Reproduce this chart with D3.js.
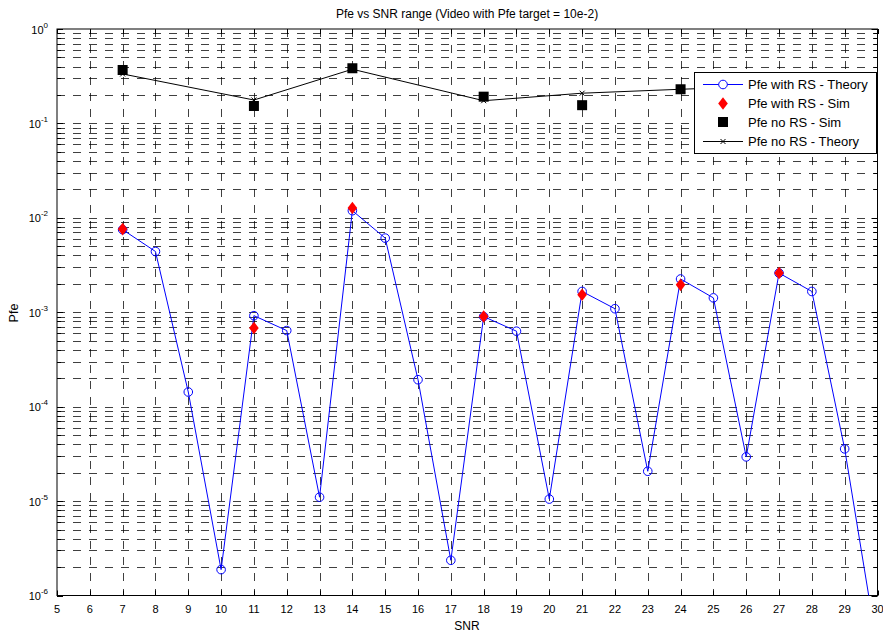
<!DOCTYPE html>
<html><head><meta charset="utf-8">
<script src="https://cdn.jsdelivr.net/npm/d3@7"></script>
<style>body{margin:0;background:#fff}svg{display:block;font-family:"Liberation Sans",Arial,sans-serif}</style>
</head><body><svg id="c" width="883" height="633"></svg>
<script>
const snr = [7,8,9,10,11,12,13,14,15,16,17,18,19,20,21,22,23,24,25,26,27,28,29,30];
const theoryRS = [7.5e-3,4.4e-3,1.43e-4,1.88e-6,9.2e-4,6.4e-4,1.1e-5,1.19e-2,6.1e-3,1.93e-4,2.36e-6,9.0e-4,6.3e-4,1.05e-5,1.66e-3,1.09e-3,2.07e-5,2.25e-3,1.42e-3,2.94e-5,2.6e-3,1.66e-3,3.57e-5,2.7e-7];
const simX = [7,11,14,18,21,24,27];
const simRS = [7.6e-3,6.8e-4,1.27e-2,9.0e-4,1.53e-3,1.95e-3,2.6e-3];
const noRSSim = [0.368,0.153,0.384,0.192,0.156,0.230,0.24];
const noRSTheory = [0.334,0.177,0.375,0.174,0.209,0.23,0.25];
const xTicks = d3.range(5,31);
const yDecades = [1e-6,1e-5,1e-4,1e-3,1e-2,1e-1,1e0];
const legendLabels = ["Pfe with RS - Theory","Pfe with RS - Sim","Pfe no RS - Sim","Pfe no RS - Theory"];

const svg = d3.select("#c");
const L=57, R=877.5, T=29, B=595.5;
const x = d3.scaleLinear().domain([5,30]).range([L,R]);
const y = d3.scaleLog().domain([1e-6,1]).range([B,T]);

const yMinor = [];
for (let e=-6;e<0;e++) for (let m=1;m<=9;m++) yMinor.push(m*Math.pow(10,e));
yMinor.push(1);

const defs = svg.append("defs");
defs.append("clipPath").attr("id","clip").append("rect").attr("x",L).attr("y",T).attr("width",R-L).attr("height",B-T);

// grid
const g = svg.append("g");
g.selectAll(".hg").data(yMinor.filter(v=>v>1e-6&&v<1)).join("line")
  .attr("x1",L).attr("x2",R).attr("y1",d=>Math.round(y(d))+0.5).attr("y2",d=>Math.round(y(d))+0.5)
  .attr("stroke","#000").attr("stroke-opacity",0.75).attr("stroke-dasharray","8,8");
g.selectAll(".vg").data(xTicks.filter(v=>v>5&&v<30)).join("line")
  .attr("y1",T).attr("y2",B).attr("x1",d=>Math.round(x(d))+0.5).attr("x2",d=>Math.round(x(d))+0.5)
  .attr("stroke","#000").attr("stroke-opacity",0.75).attr("stroke-dasharray","8,8");

// ticks inside on all sides
const ax = svg.append("g").attr("stroke","#000");
const tl=5;
xTicks.forEach(v=>{
  const px=Math.round(x(v))+0.5;
  ax.append("line").attr("x1",px).attr("x2",px).attr("y1",B).attr("y2",B-tl);
  ax.append("line").attr("x1",px).attr("x2",px).attr("y1",T).attr("y2",T+tl);
});
yMinor.forEach(v=>{
  const py=Math.round(y(v))+0.5;
  const len = yDecades.includes(v)?6:4;
  ax.append("line").attr("x1",L).attr("x2",L+len).attr("y1",py).attr("y2",py);
  ax.append("line").attr("x1",R).attr("x2",R-len).attr("y1",py).attr("y2",py);
});
svg.append("rect").attr("x",L).attr("y",T).attr("width",R-L).attr("height",B-T)
  .attr("fill","none").attr("stroke","#000").attr("stroke-width",1);

// tick labels
svg.append("g").selectAll("text").data(xTicks).join("text")
  .attr("x",d=>x(d)).attr("y",612.5).attr("text-anchor","middle").attr("font-size",11).text(d=>d);
const yl = svg.append("g").selectAll("text").data(yDecades).join("text")
  .attr("x",48).attr("y",d=>y(d)+4.5).attr("text-anchor","end").attr("font-size",11);
yl.append("tspan").text("10");
yl.append("tspan").attr("dy",-6).attr("font-size",8).text(d=>Math.round(Math.log10(d)));

// titles
svg.append("text").attr("x",467).attr("y",18).attr("text-anchor","middle").attr("font-size",12)
  .text("Pfe vs SNR range (Video with Pfe target = 10e-2)");
svg.append("text").attr("x",467).attr("y",629.5).attr("text-anchor","middle").attr("font-size",12).text("SNR");
svg.append("text").attr("transform","translate(17.5,313) rotate(-90)").attr("text-anchor","middle").attr("font-size",12.5).text("Pfe");

// data
const plot = svg.append("g").attr("clip-path","url(#clip)");
const line = d3.line().x(d=>x(d[0])).y(d=>y(d[1]));
plot.append("path").datum(snr.map((s,i)=>[s,theoryRS[i]])).attr("d",line)
  .attr("fill","none").attr("stroke","#0000ff").attr("stroke-width",1);
plot.selectAll(".tc").data(snr.map((s,i)=>[s,theoryRS[i]])).join("circle")
  .attr("cx",d=>x(d[0])).attr("cy",d=>y(d[1])).attr("r",4.3).attr("fill","none").attr("stroke","#0000ff");
const diamond = (cx,cy)=>`M${cx},${cy-6.3}L${cx+4.8},${cy}L${cx},${cy+6.3}L${cx-4.8},${cy}Z`;
plot.selectAll(".sd").data(simX.map((s,i)=>[s,simRS[i]])).join("path")
  .attr("d",d=>diamond(x(d[0]),y(d[1]))).attr("fill","#ff0000");
plot.selectAll(".sq").data(simX.map((s,i)=>[s,noRSSim[i]])).join("rect")
  .attr("x",d=>x(d[0])-5).attr("y",d=>y(d[1])-5).attr("width",10).attr("height",10).attr("fill","#000");
plot.append("path").datum(simX.map((s,i)=>[s,noRSTheory[i]])).attr("d",line)
  .attr("fill","none").attr("stroke","#000").attr("stroke-width",1);
const xm = (cx,cy)=>`M${cx-2.5},${cy-2.5}L${cx+2.5},${cy+2.5}M${cx-2.5},${cy+2.5}L${cx+2.5},${cy-2.5}`;
plot.selectAll(".xm").data(simX.map((s,i)=>[s,noRSTheory[i]])).join("path")
  .attr("d",d=>xm(x(d[0]),y(d[1]))).attr("stroke","#000").attr("fill","none");

// legend
const lg = svg.append("g");
lg.append("rect").attr("x",694.5).attr("y",72.5).attr("width",182).attr("height",81).attr("fill","#fff").attr("stroke","#000");
const ly = [84.5,103.5,122,141.5];
legendLabels.forEach((t,i)=>{
  const yy=ly[i], cx=723;
  if(i===0){
    lg.append("line").attr("x1",703).attr("x2",743).attr("y1",yy).attr("y2",yy).attr("stroke","#0000ff");
    lg.append("circle").attr("cx",cx).attr("cy",yy).attr("r",4.3).attr("fill","#fff").attr("stroke","#0000ff");
  } else if(i===1){
    lg.append("path").attr("d",diamond(cx,yy)).attr("fill","#ff0000");
  } else if(i===2){
    lg.append("rect").attr("x",cx-5).attr("y",yy-5).attr("width",10).attr("height",10).attr("fill","#000");
  } else {
    lg.append("line").attr("x1",703).attr("x2",743).attr("y1",yy).attr("y2",yy).attr("stroke","#000");
    lg.append("path").attr("d",xm(cx,yy)).attr("stroke","#000");
  }
  lg.append("text").attr("x",748).attr("y",yy+4.5).attr("font-size",13).text(t);
});
</script></body></html>
